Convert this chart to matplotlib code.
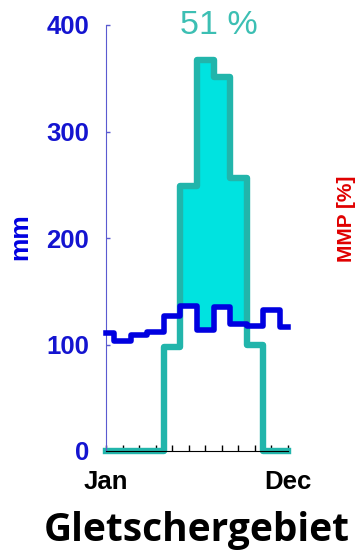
import numpy as np
from matplotlib import pyplot as plt

months = np.arange(1, 13)
month_labels = ['Jan', '', '', '', '', '', '', '', '', '', '', 'Dec']
precip = np.array([111, 103, 109, 112, 127, 136, 114, 135, 119, 117, 132, 116], float)
melt = np.array([0, 0, 0, 0, 98, 249, 367, 351, 256, 100, 0, 0], float)
share_text = '51 %'

blue = '#0000e0'
teal = '#22b5ab'
cyan = '#00e3e0'

fig = plt.figure(figsize=(3.57, 5.55), dpi=100)
ax = fig.add_axes([106 / 357, 104 / 555, 182 / 357, 426 / 555])

ax.fill_between(months, precip, np.maximum(melt, precip), step='mid',
                color=cyan, linewidth=0, zorder=1)
ax.step(months, melt, where='mid', color=teal, linewidth=4.6, zorder=2, clip_on=False)
ax.step(months, precip, where='mid', color=blue, linewidth=4.0, zorder=3, clip_on=False)

ax.set_xlim(1, 12)
ax.set_ylim(0, 400)
ax.set_xticks(months)
ax.set_xticklabels(month_labels, fontsize=18.5, fontweight='bold', family='Liberation Sans')
ax.set_yticks([0, 100, 200, 300, 400])
ax.set_yticklabels(['0', '100', '200', '300', '400'], fontsize=18.5, fontweight='bold',
                   family='Liberation Sans', color='#1414d0')
ax.tick_params(axis='x', direction='in', length=4, width=1, color='black', pad=14)
ax.tick_params(axis='y', direction='in', length=3, width=1, color='#5a5ad0', pad=12)
for t in ax.xaxis.get_major_ticks():
    t.tick1line.set_zorder(5)
ax.spines['top'].set_visible(False)
ax.spines['right'].set_visible(False)
ax.spines['left'].set_color('#5a5ad0')
ax.spines['bottom'].set_color('black')

ax.text(7.8, 400, share_text, color='#3cbfb3', fontsize=24.5, family='Liberation Sans',
        ha='center', va='center')

fig.text(20 / 357, 1 - 237 / 555, 'mm', rotation=90, color=blue, fontsize=19,
         fontweight='bold', family='Liberation Sans', ha='center', va='center')
fig.text(346 / 357, 1 - 219 / 555, 'MMP [%]', rotation=90, color='#e00000', fontsize=15,
         fontweight='bold', family='Liberation Sans', ha='center', va='center')
fig.text(197 / 357, 1 - 530 / 555, 'Gletschergebiet', color='black', fontsize=28,
         fontweight='bold', family='Open Sans', ha='center', va='center')

fig.savefig('out.png', dpi=100)
